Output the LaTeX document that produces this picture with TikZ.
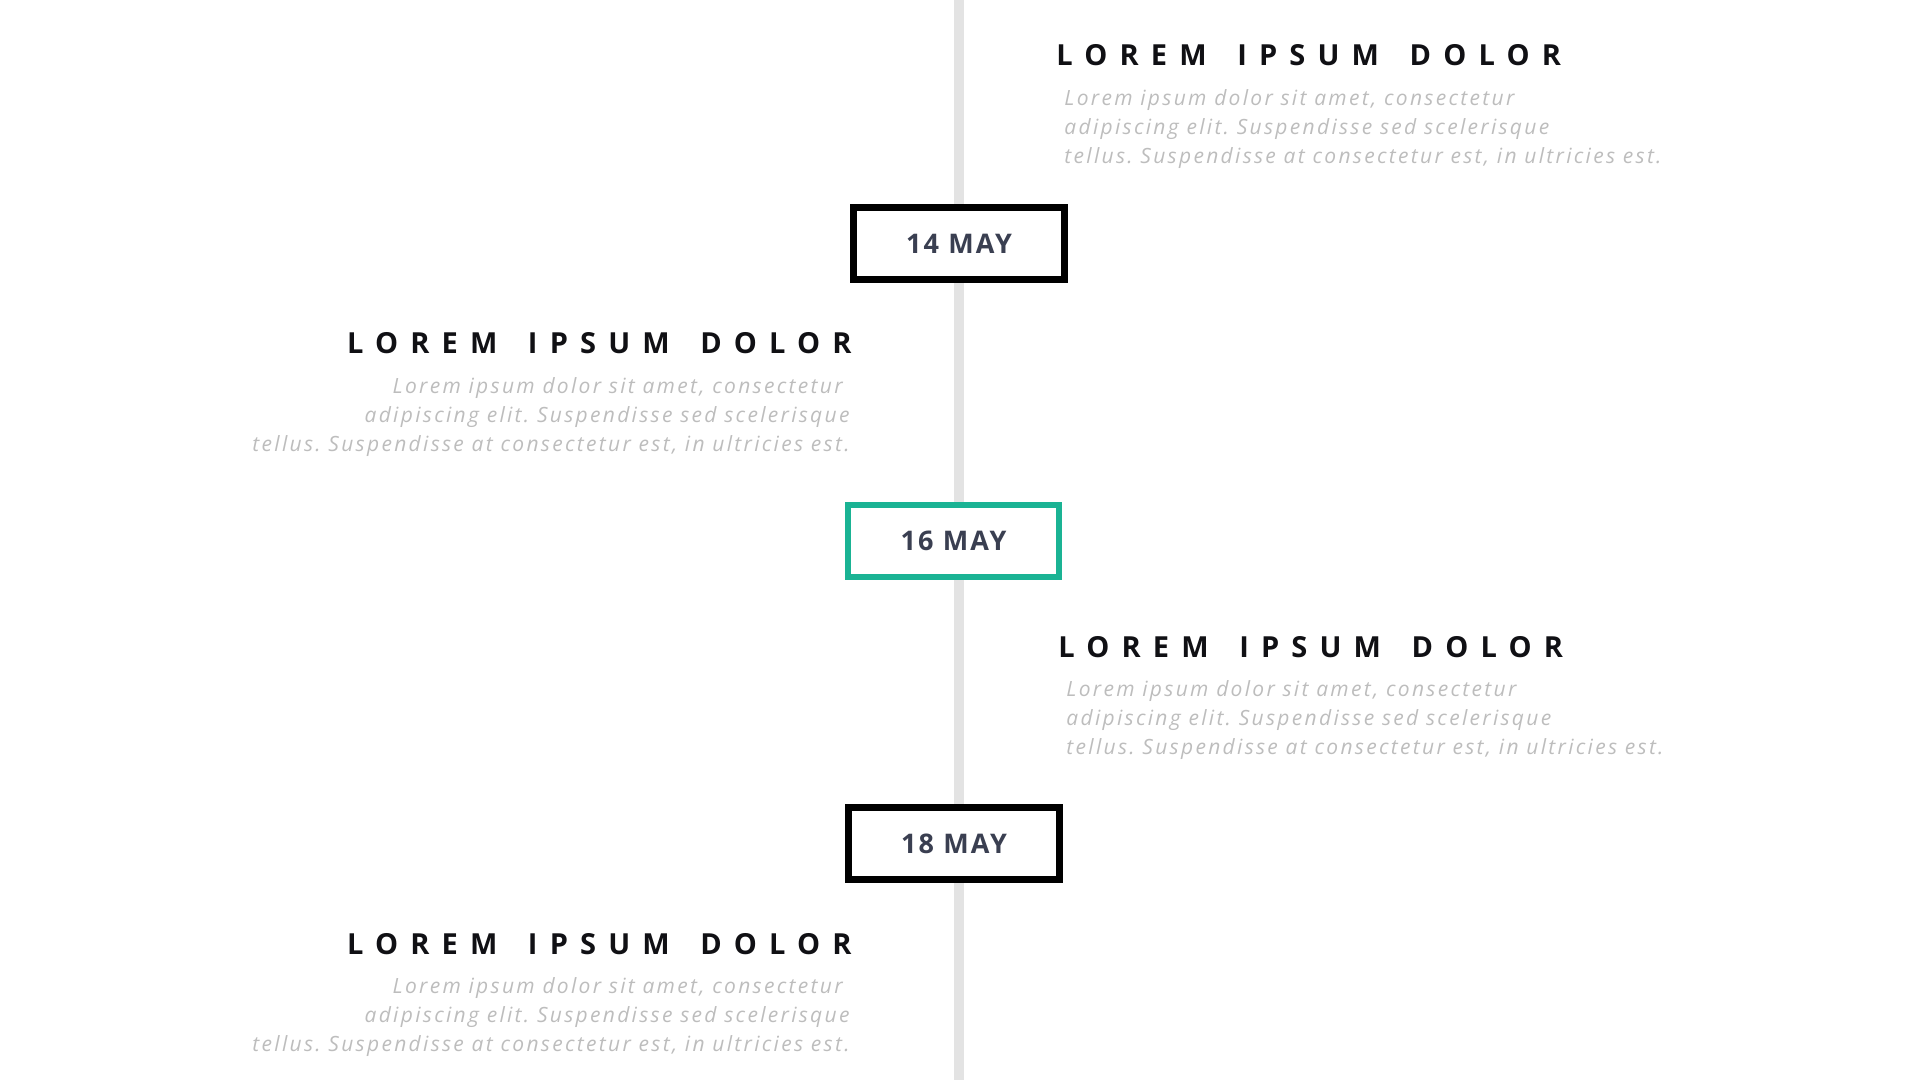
\documentclass[tikz,border=0pt]{standalone}
\usepackage{fontspec}
\setmainfont{Open Sans}
\newfontfamily\headfont[LetterSpace=42,WordSpace=1.55]{Open Sans}
\newfontfamily\bodyfont[LetterSpace=11]{Open Sans}
\newfontfamily\datefont[LetterSpace=8]{Open Sans}
\usetikzlibrary{positioning}
\definecolor{spinegray}{HTML}{E3E3E3}
\definecolor{bodygray}{HTML}{BDBDBD}
\definecolor{dateslate}{HTML}{3A3F51}
\definecolor{headblack}{HTML}{101014}
\definecolor{mint}{HTML}{1AB394}
\frenchspacing

\begin{document}
\begin{tikzpicture}[x=0.5pt,y=-0.5pt,
  spine/.style={draw=spinegray,line width=5pt},
  datebox/.style={draw=black,line width=3.5pt,fill=white,
    minimum width=105.5pt,minimum height=36pt,inner sep=0pt,
    font=\datefont\bfseries\fontsize{13.5pt}{16pt}\selectfont,text=dateslate},
  heading/.style={inner sep=0pt,text=headblack,
    font=\headfont\bfseries\fontsize{14.5pt}{17pt}\selectfont},
  blurb/.style={inner sep=0pt,text=bodygray,
    font=\bodyfont\itshape\fontsize{10.5pt}{14.5pt}\selectfont}]
\useasboundingbox (0,0) rectangle (1920,1080);
% timeline
\coordinate (top) at (959,0);
\coordinate (bot) at (959,1080);
\draw[spine] (top) -- (bot);
% dates
\node[datebox] (may14) at (959,244) {14 MAY};
\node[datebox,draw=mint,line width=3pt] (may16) at (953.5,540.5) {16 MAY};
\node[datebox] (may18) at (954,843.5) {18 MAY};
% entries
\node[heading,anchor=base west] (head1) at (1056,66) {LOREM IPSUM DOLOR};
\node[blurb,align=left,below right=11.5pt and 4pt of head1.base west] (text1)
  {Lorem ipsum dolor sit amet, consectetur\\adipiscing elit. Suspendisse sed scelerisque\\tellus. Suspendisse at consectetur est, in ultricies est.};
\node[heading,anchor=base east] (head2) at (852,354) {LOREM IPSUM DOLOR};
\node[blurb,align=right,below left=11.5pt and 1pt of head2.base east] (text2)
  {Lorem ipsum dolor sit amet, consectetur\hspace*{3.5pt}\\adipiscing elit. Suspendisse sed scelerisque\hspace*{6pt}\\tellus. Suspendisse at consectetur est, in ultricies est.};
\node[heading,anchor=base west] (head3) at (1058,657) {LOREM IPSUM DOLOR};
\node[blurb,align=left,below right=11.5pt and 4pt of head3.base west] (text3)
  {Lorem ipsum dolor sit amet, consectetur\\adipiscing elit. Suspendisse sed scelerisque\\tellus. Suspendisse at consectetur est, in ultricies est.};
\node[heading,anchor=base east] (head4) at (852,954) {LOREM IPSUM DOLOR};
\node[blurb,align=right,below left=11.5pt and 1pt of head4.base east] (text4)
  {Lorem ipsum dolor sit amet, consectetur\hspace*{3.5pt}\\adipiscing elit. Suspendisse sed scelerisque\hspace*{6pt}\\tellus. Suspendisse at consectetur est, in ultricies est.};
\end{tikzpicture}
\end{document}
